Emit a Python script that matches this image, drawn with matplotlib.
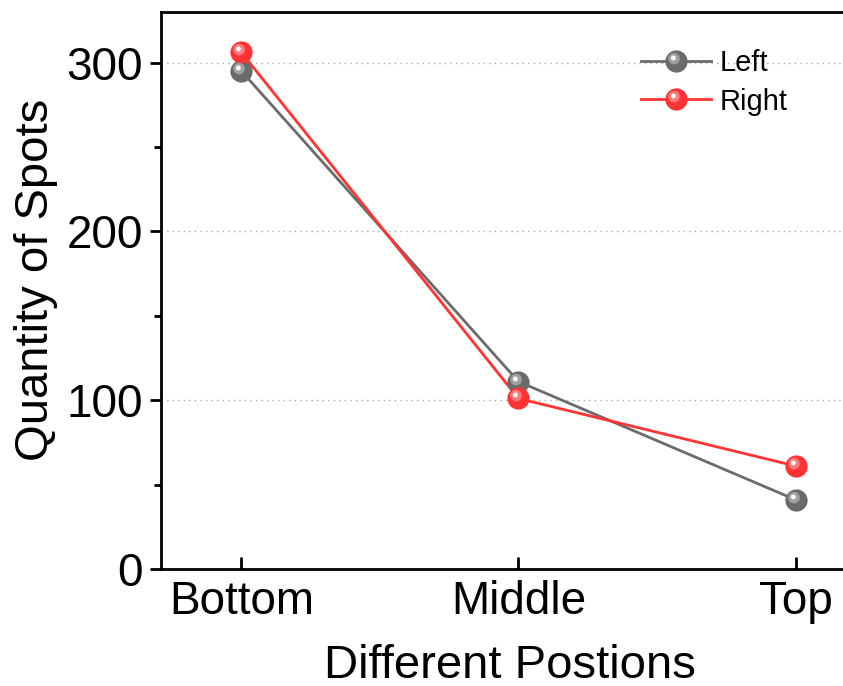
import matplotlib
matplotlib.use("Agg")
import matplotlib.pyplot as plt
from matplotlib.ticker import MultipleLocator
from matplotlib.legend_handler import HandlerTuple
from matplotlib.lines import Line2D
from matplotlib.path import Path

categories = ["Bottom", "Middle", "Top"]
left_vals = [295, 111, 41]
right_vals = [306, 101, 61]
series_names = ["Left", "Right"]

plt.rcParams['font.family'] = ['Liberation Sans', 'DejaVu Sans']


def offset_circle(cx, cy, r):
    c = Path.circle(center=(cx, cy), radius=r)
    verts = [[0.5, 0.5]] + list(c.vertices)
    codes = [Path.MOVETO] + list(c.codes)
    return Path(verts, codes)


hl_mid = offset_circle(-0.11, 0.13, 0.26)
hl_in = offset_circle(-0.14, 0.16, 0.11)

fig = plt.figure(figsize=(8.43, 6.86), dpi=100)
ax = fig.add_axes([0.191, 0.1706, 0.848, 0.812])

x = list(range(len(categories)))
colors = ["#6b6b6b", "#ff3333"]
light = ["#a0a0a0", "#ff7a7a"]
ms = 16

handles = []
for vals, c, lc in zip([left_vals, right_vals], colors, light):
    ax.plot(x, vals, color=c, lw=2, zorder=3)
    ax.plot(x, vals, ls='none', marker='o', ms=ms, mfc=c, mec=c, mew=0, zorder=4)
    ax.plot(x, vals, ls='none', marker=hl_mid, ms=ms, mfc=lc, mec='none', zorder=5)
    ax.plot(x, vals, ls='none', marker=hl_in, ms=ms, mfc='white', mec='none', zorder=6)
    h1 = Line2D([], [], color=c, lw=2, marker='o', ms=ms, mfc=c, mec=c, mew=0)
    h2 = Line2D([], [], ls='none', marker=hl_mid, ms=ms, mfc=lc, mec='none')
    h3 = Line2D([], [], ls='none', marker=hl_in, ms=ms, mfc='white', mec='none')
    handles.append((h1, h2, h3))

ax.set_xlim(-0.29, 2.29)
ax.set_ylim(0, 330)
ax.set_xticks(x)
ax.set_xticklabels(categories)
ax.yaxis.set_major_locator(MultipleLocator(100))
ax.yaxis.set_minor_locator(MultipleLocator(50))
ax.yaxis.grid(True, which='major', ls=(0, (1, 3)), color='#aaaaaa', lw=1)
ax.set_axisbelow(True)

for s in ax.spines.values():
    s.set_linewidth(2)

ax.tick_params(axis='y', which='major', direction='out', length=8, width=2, labelsize=33, pad=5)
ax.tick_params(axis='y', which='minor', direction='out', length=5, width=2)
ax.tick_params(axis='x', which='major', direction='in', length=9, width=2, labelsize=33, pad=8)

ax.set_xlabel("Different Postions", fontsize=34, labelpad=14)
ax.set_ylabel("Quantity of Spots", fontsize=34, labelpad=6)
ax.xaxis.label.set_x(0.488)
ax.yaxis.label.set_y(0.519)

leg = ax.legend(handles, series_names, handler_map={tuple: HandlerTuple(ndivide=1, pad=0)},
                loc='upper left', bbox_to_anchor=(0.635, 0.98), frameon=False, fontsize=21,
                handlelength=2.4, handletextpad=0.3, labelspacing=0.35)

fig.savefig("out.png", dpi=100)
